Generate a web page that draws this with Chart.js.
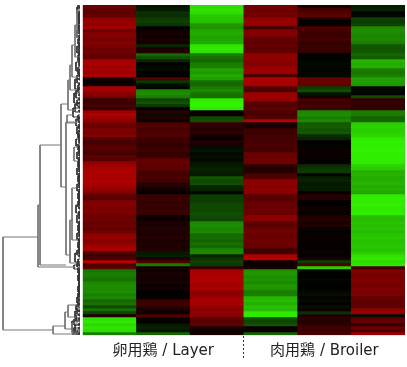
<!DOCTYPE html>
<html>
<head>
<meta charset="utf-8">
<style>
  html, body { margin: 0; padding: 0; background: #fff; }
  canvas { position: absolute; left: 0; top: 0; }
</style>
<script src="https://cdn.jsdelivr.net/npm/chart.js@4"></script>
</head>
<body>
<canvas id="heat" width="407" height="367"></canvas>
<canvas id="tree" width="82" height="367"></canvas>
<script>
let COLUMNS = ["L1", "L2", "L3", "B1", "B2", "B3"];
let GROUPS = ["卵用鶏 / Layer", "肉用鶏 / Broiler"];

// log ratio per row, top to bottom. red = up, green = down
let L1 = [
  .42,.38,.36,.40,.55,.60,.58,.64,.42,.52,
  .50,.46,.52,.48,.42,.45,.40,.38,.66,.66,
  .62,.66,.60,.67,.08,.03,.06,.65,.62,.54,
  .45,.24,.22,.28,.20,.60,.68,.62,.55,.45,
  .42,.50,.44,.52,.32,.28,.30,.34,.30,.28,
  .36,.32,.58,.62,.65,.68,.67,.66,.68,.66,
  .62,.56,.50,.36,.34,.50,.52,.48,.50,.46,
  .42,.45,.40,.42,.38,.44,.55,.58,.52,.56,
  .64,.66,.30,.25,.28,.72,.30,.35,-.48,-.52,
  -.50,-.46,-.55,-.58,-.56,-.58,-.52,-.55,-.42,-.46,
  -.30,-.45,-.28,.12,-.92,-.95,-.88,-.93,-.90,-.50
];
let L2 = [
  -.08,-.1,-.2,-.18,-.24,-.26,-.22,0,.06,.08,
  .05,.1,.08,-.15,.1,.12,-.42,-.32,-.15,0,
  -.03,-.05,0,.02,.32,-.22,-.06,-.03,-.55,-.58,
  -.52,-.28,-.34,-.22,0,.16,-.05,.14,.05,.3,
  .32,.28,.3,.33,.22,.24,.2,.22,.25,.2,
  .22,.38,.4,.36,.38,.28,.26,.3,.26,.16,
  .14,.06,.02,.22,.24,.2,.22,.2,.24,.22,
  .04,.06,.12,.1,.14,.12,.1,.14,.11,.13,
  .1,.13,-.1,-.12,.1,.3,-.5,.08,.06,.1,
  .08,.06,.1,.05,.08,0,0,.02,.22,.25,
  .2,.08,.06,.3,.05,.02,-.1,-.14,-.08,-.4
];
let L3 = [
  -.9,-.92,-.9,-.82,-.8,-.78,-.62,-.6,-.68,-.7,
  -.66,-.68,-.7,-.94,-.96,-.92,-.5,-.46,-.42,-.5,
  -.52,-.66,-.62,-.7,-.64,-.44,-.42,-.5,-.55,-.48,
  -.44,-.96,-.98,-.99,-.95,.05,.03,-.3,-.32,.2,
  .18,.14,.2,.08,.02,.14,.1,-.05,-.08,-.04,
  -.06,-.03,-.08,-.1,-.14,-.12,-.1,-.35,-.3,-.32,
  -.15,-.14,-.02,-.24,-.26,-.25,-.3,-.3,-.28,-.32,
  -.3,-.28,-.55,-.58,-.54,-.56,-.42,-.44,-.4,-.45,
  -.42,-.55,-.56,-.15,-.22,-.26,-.24,.2,.66,.68,
  .67,.68,.66,.64,.67,.54,.56,.62,.65,.64,
  .58,.54,.56,.52,.36,.34,.38,.1,.06,.08
];
let B1 = [
  .45,.42,.46,.44,.56,.6,.58,.25,.5,.52,
  .48,.38,.36,.4,.36,.38,.55,.56,.54,.52,
  .55,.62,.6,.25,.68,.66,.66,.32,.3,.6,
  .62,.58,.35,.32,.36,.3,.28,.32,.7,.1,
  .08,.25,.22,.26,.28,.26,.3,.28,.25,.42,
  .4,.44,.42,.18,.14,.12,.3,.32,.55,.56,
  .52,.55,.54,.35,.34,.38,.42,.4,.44,.4,
  .55,.54,.36,.34,.42,.44,.4,.42,.44,.42,
  .4,.25,.25,.68,.7,.05,.04,.1,-.6,-.62,
  -.58,-.6,-.55,-.62,-.6,-.5,-.52,-.74,-.76,-.72,
  -.78,-.76,-.95,-.95,-.32,-.28,-.34,.04,.05,-.4
];
let B2 = [
  .1,.28,.32,.36,.12,0,.02,.3,.26,.24,
  .22,.28,.2,.22,.24,.2,0,-.02,-.02,-.04,
  -.03,-.02,-.04,-.03,.42,.4,.38,-.25,-.32,-.08,
  .08,.26,.24,.28,.22,-.55,-.58,-.5,-.56,-.36,
  -.38,-.34,-.36,-.18,-.14,.02,-.02,.04,.06,.03,
  .04,.02,.03,-.18,-.22,-.24,.01,-.12,-.14,-.1,
  -.12,-.1,.02,.16,.14,0,.02,.05,.06,.04,
  .12,.14,.1,.13,.04,.02,.03,.04,.02,.03,
  .02,.03,.04,.02,.1,-.25,.3,-.85,-.02,-.01,
  0,-.03,-.02,0,.01,-.04,-.06,.03,-.05,.02,
  -.06,.04,-.2,.12,.16,.14,.18,.26,.22,.28
];
let B3 = [
  -.12,-.14,-.02,-.03,-.26,-.24,-.28,-.55,-.58,-.56,
  -.54,-.56,-.52,-.36,-.34,-.36,-.42,-.38,-.74,-.7,
  -.72,-.5,-.48,-.52,-.66,-.64,-.62,-.02,-.03,-.02,
  -.3,.2,.22,.18,.2,-.52,-.5,-.4,-.42,-.84,
  -.86,-.84,-.85,-.88,-.96,-.98,-.97,-.98,-.99,-.97,
  -.98,-.97,-.96,-.86,-.84,-.72,-.74,-.7,-.72,-.74,
  -.7,-.72,-.68,-.95,-.97,-.96,-.98,-.96,-.95,-.97,
  -.78,-.76,-.8,-.78,-.8,-.76,-.8,-.82,-.78,-.8,
  -.82,-.78,-.84,-.92,-.96,-.9,-.94,.25,.5,.48,
  .46,.5,.48,.46,.5,.47,.49,.38,.4,.36,
  .38,.56,.6,-.05,.36,.4,.2,.42,.3,.6
];

// dendrogram merges: [height, top leaf pos, top child height, bottom leaf pos, bottom child height]
let MERGES = [
  [77,232,42,325,27],
  [42,200,40,262,5],
  [40,140,19,260,14],
  [19,99,12,182,14],
  [14,117,2,250,10],
  [12,75,10,105,4],
  [10,60,8,85,3],
  [8,40,5,72,2],
  [5,20,3,52,2],
  [3,5,1,33,1],
  [13,110,6,118,3],
  [10,215,7,258,3],
  [8,183,4,235,2],
  [6,142,2,156,2],
  [27,321,15,329,2],
  [15,307,12,324,8],
  [12,300,3,312,4],
  [8,318,2,328,2]
];
// small clusters next to the leaves: [height, top, bottom]
let TWIGS = [
  [2,0,4],[3,2,9],[1,6,12],[2,10,16],[1,14,19],[2,18,24],[1,22,27],[3,25,32],[1,30,36],[2,34,39],
  [1,37,43],[3,41,48],[1,46,51],[2,50,56],[1,54,59],[4,57,66],[2,62,69],[1,67,72],[3,70,78],[5,74,84],
  [2,80,87],[4,85,93],[6,88,98],[3,95,101],[5,99,107],[7,103,112],[2,110,116],[4,114,121],[1,119,124],[3,122,129],
  [2,127,133],[1,131,136],[4,134,141],[2,139,145],[1,143,149],[3,147,154],[1,152,158],[2,156,162],[1,160,165],[3,163,170],
  [1,168,173],[2,171,177],[1,175,181],[3,179,186],[1,184,190],[2,188,194],[1,192,198],[2,196,202],[4,200,208],[1,206,212],
  [3,210,218],[1,216,222],[2,220,226],[1,224,230],[3,228,235],[1,233,239],[2,237,243],[1,241,247],[3,245,250],[5,248,257],
  [2,254,259],[3,257,262],[6,260,264],[2,263,268],[1,266,272],[2,270,276],[1,274,279],[1,277,283],[2,281,287],[1,285,290],
  [2,288,294],[3,292,298],[2,296,302],[4,300,305],[3,303,309],[5,306,313],[4,310,316],[6,314,320],[8,316,325],[5,320,329],
  [7,323,330],[3,326,330],
  [1,1,3],[1,8,10],[1,12,14],[1,16,18],[1,20,22],[1,27,29],[1,32,34],[1,39,41],[1,43,46],[1,48,50],
  [1,52,54],[1,59,61],[1,64,66],[1,69,71],[1,73,75],[1,78,80],[1,82,84],[1,89,91],[1,93,95],[1,97,99],
  [1,101,103],[1,105,107],[1,112,114],[1,116,118],[1,121,123],[1,125,127],[1,129,131],[1,136,138],[1,141,143],[1,145,147],
  [1,149,151],[1,154,156],[1,158,160],[1,165,167],[1,170,172],[1,173,175],[1,177,179],[1,181,183],[1,186,188],[1,190,192],
  [1,194,196],[1,198,200],[1,202,204],[1,208,210],[1,212,214],[1,218,220],[1,222,224],[1,226,228],[1,230,232],[1,235,237],
  [1,239,241],[1,243,245],[1,247,249],[1,250,252],[1,259,261],[1,264,266],[1,268,270],[1,272,274],[1,279,281],[1,283,285],
  [1,287,289],[1,290,292],[1,294,296],[1,298,300],[1,305,307],[1,309,311],[1,313,315],[1,318,320],[1,322,324],[1,327,329]
];

function cellColor(v) {
  if (v >= 0) return "rgb(" + Math.round(v * 255) + ",0,0)";
  return "rgb(" + Math.round(-v * 50) + "," + Math.round(-v * 245) + ",0)";
}

let table = [L1, L2, L3, B1, B2, B3];
let rowSets = L1.map(function (_, r) {
  return {
    data: COLUMNS.map(function () { return [r, r + 1]; }),
    backgroundColor: table.map(function (col) { return cellColor(col[r]); }),
    borderWidth: 0,
    barPercentage: 1,
    categoryPercentage: 1,
    grouped: false
  };
});

new Chart(document.getElementById("heat"), {
  type: "bar",
  data: { labels: COLUMNS, datasets: rowSets },
  options: {
    responsive: false,
    animation: false,
    layout: { padding: { left: 82.7, right: 2, top: 5, bottom: 0 } },
    plugins: { legend: { display: false }, tooltip: { enabled: false } },
    scales: {
      x: { display: false, stacked: false },
      y: { display: false, reverse: true, min: 0, max: L1.length },
      xGroup: {
        type: "category",
        position: "bottom",
        labels: GROUPS,
        offset: true,
        afterFit: function (scale) { scale.height = 32; },
        border: { color: "#e6e6e6" },
        grid: {
          offset: true,
          drawOnChartArea: false,
          tickLength: 23,
          tickWidth: 1,
          tickBorderDash: [2, 2],
          tickColor: function (ctx) { return ctx.index === 1 ? "#333" : "rgba(0,0,0,0)"; }
        },
        ticks: {
          padding: -16,
          maxRotation: 0,
          color: "#222",
          font: { family: "'DejaVu Sans', 'Noto Sans CJK JP'", size: 15 }
        }
      }
    }
  }
});

let treePts = [], twigPts = [];
MERGES.forEach(function (m) {
  treePts.push({ x: m[2], y: m[1] }, { x: m[0], y: m[1] }, { x: m[0], y: m[3] }, { x: m[4], y: m[3] }, { x: null, y: null });
});
TWIGS.forEach(function (t) {
  twigPts.push({ x: 0, y: t[1] }, { x: t[0], y: t[1] }, { x: t[0], y: t[2] }, { x: 0, y: t[2] }, { x: null, y: null });
});

new Chart(document.getElementById("tree"), {
  type: "scatter",
  data: {
    datasets: [
      { data: treePts, showLine: true, spanGaps: false, pointRadius: 0, borderColor: "#777", borderWidth: 1 },
      { data: twigPts, showLine: true, spanGaps: false, pointRadius: 0, borderColor: "#333", borderWidth: 1 }
    ]
  },
  options: {
    responsive: false,
    animation: false,
    layout: { padding: { left: 0, right: 2, top: 5, bottom: 32 } },
    plugins: { legend: { display: false }, tooltip: { enabled: false } },
    scales: {
      x: { display: false, reverse: true, min: 0, max: 80 },
      y: { display: false, reverse: true, min: 0, max: 330 }
    }
  }
});
</script>
</body>
</html>
